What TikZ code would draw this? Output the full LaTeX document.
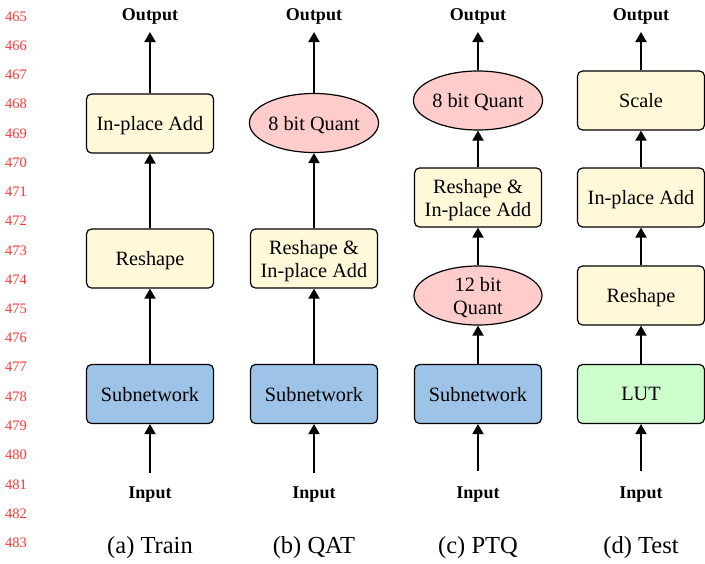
\documentclass[tikz,border=0pt]{standalone}
\usepackage{fontspec}
\setmainfont{Liberation Serif}
\usetikzlibrary{shapes.geometric,arrows.meta}
\definecolor{boxyellow}{HTML}{FFF9DA}
\definecolor{boxblue}{HTML}{9DC3E6}
\definecolor{boxpink}{HTML}{FFCCCC}
\definecolor{boxgreen}{HTML}{CCFFCC}
\definecolor{lnred}{HTML}{FF3535}
\begin{document}
\begin{tikzpicture}[x=1pt,y=-1pt,
  blk/.style={draw=black, line width=1.2pt, rounded corners=5pt, minimum width=127pt, minimum height=59pt, align=center, font=\fontsize{20.3}{23}\selectfont, inner sep=0pt, text depth=0pt},
  ybox/.style={blk, fill=boxyellow},
  bbox/.style={blk, fill=boxblue},
  gbox/.style={blk, fill=boxgreen},
  qell/.style={blk, ellipse, rounded corners=0pt, fill=boxpink, minimum width=128pt},
  io/.style={font=\fontsize{18}{20}\selectfont\bfseries, inner sep=0pt, text depth=0pt},
  captxt/.style={font=\fontsize{24.5}{28}\selectfont, inner sep=0pt, text depth=0pt},
  lnum/.style={font=\fontsize{14.5}{16}\selectfont, text=lnred, anchor=west, inner sep=0pt, text depth=0pt},
  arr/.style={line width=2pt, -{Triangle[length=10pt,width=11pt]}}]
\useasboundingbox[fill=white] (0,0) rectangle (705,563);

% line numbers
\foreach \n [count=\k from 0] in {465,...,483}
  \node[lnum] (ln\n) at (5,{16.2+29.25*\k}) {\n};

% (a) Train
\node[io] (outa) at (150,14.5) {Output};
\coordinate (oa) at (150,32);
\node[ybox] (adda) at (150,123.5) {In-place Add};
\node[ybox] (resa) at (150,258.5) {Reshape};
\node[bbox] (suba) at (150,394) {Subnetwork};
\coordinate (ia) at (150,473);
\node[io] (ina) at (150,493) {Input};
\node[captxt] (capa) at (150,545) {(a) Train};
\draw[arr] (ia) -- (suba);
\draw[arr] (suba) -- (resa);
\draw[arr] (resa) -- (adda);
\draw[arr] (adda) -- (oa);

% (b) QAT
\node[io] (outb) at (314,14.5) {Output};
\coordinate (ob) at (314,32);
\node[qell] (q8b) at (314,123) {8 bit Quant};
\node[ybox] (rab) at (314,258.5) {Reshape \&\\In-place Add};
\node[bbox] (subb) at (314,394) {Subnetwork};
\coordinate (ib) at (314,473);
\node[io] (inb) at (314,493) {Input};
\node[captxt] (capb) at (314,545) {(b) QAT};
\draw[arr] (ib) -- (subb);
\draw[arr] (subb) -- (rab);
\draw[arr] (rab) -- (q8b);
\draw[arr] (q8b) -- (ob);

% (c) PTQ
\node[io] (outc) at (478,14.5) {Output};
\coordinate (oc) at (478,32);
\node[qell] (q8c) at (478,100.5) {8 bit Quant};
\node[ybox] (rac) at (478,197.5) {Reshape \&\\In-place Add};
\node[qell] (q12c) at (478,295.5) {12 bit\\Quant};
\node[bbox] (subc) at (478,394) {Subnetwork};
\coordinate (ic) at (478,471);
\node[io] (inc) at (478,493) {Input};
\node[captxt] (capc) at (478,545) {(c) PTQ};
\draw[arr] (ic) -- (subc);
\draw[arr] (subc) -- (q12c);
\draw[arr] (q12c) -- (rac);
\draw[arr] (rac) -- (q8c);
\draw[arr] (q8c) -- (oc);

% (d) Test
\node[io] (outd) at (641,14.5) {Output};
\coordinate (od) at (641,32);
\node[ybox] (scd) at (641,100.5) {Scale};
\node[ybox] (addd) at (641,197.5) {In-place Add};
\node[ybox] (resd) at (641,295.5) {Reshape};
\node[gbox] (lutd) at (641,394) {LUT};
\coordinate (id) at (641,471);
\node[io] (ind) at (641,493) {Input};
\node[captxt] (capd) at (641,545) {(d) Test};
\draw[arr] (id) -- (lutd);
\draw[arr] (lutd) -- (resd);
\draw[arr] (resd) -- (addd);
\draw[arr] (addd) -- (scd);
\draw[arr] (scd) -- (od);
\end{tikzpicture}
\end{document}
